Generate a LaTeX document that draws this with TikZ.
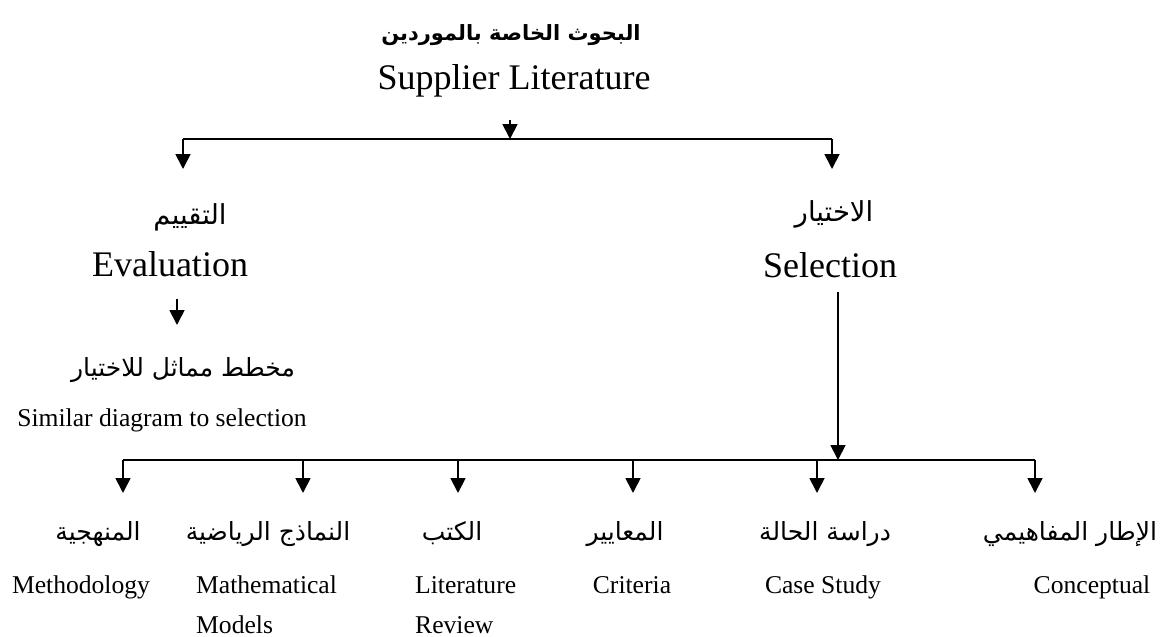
\documentclass[tikz,border=0pt]{standalone}
\usepackage{fontspec}
\setmainfont{Liberation Serif}
\newfontfamily\arabicfont[Script=Arabic]{DejaVu Sans}
\TeXXeTstate=1
\usetikzlibrary{arrows.meta}
\newcommand{\ar}[1]{{\arabicfont\beginR #1\endR}}
\begin{document}
\begin{tikzpicture}[x=1pt,y=-1pt,
  link/.style={line width=1.6pt},
  arr/.style={line width=1.8pt,-{Triangle[length=15pt,width=15pt]}},
  en/.style={anchor=base,inner sep=0pt,font=\fontsize{25.6}{28}\selectfont},
  enbig/.style={anchor=base,inner sep=0pt,font=\fontsize{36}{40}\selectfont},
  arlab/.style={anchor=base,inner sep=0pt,font=\fontsize{25}{28}\selectfont},
  arhead/.style={anchor=base,inner sep=0pt,font=\fontsize{27.5}{30}\selectfont}]
\useasboundingbox (0,0) rectangle (1162,637);

% root
\node[anchor=base,inner sep=0pt,font=\fontsize{21}{24}\selectfont\bfseries] (rootAr) at (511,40) {\ar{البحوث الخاصة بالموردين}};
\node[enbig] (rootEn) at (514,89) {Supplier Literature};

% first split
\coordinate (r0) at (510,120);
\coordinate (r1) at (510,139);
\coordinate (sL) at (183,139);
\coordinate (sR) at (832,139);
\coordinate (eTip) at (183,169);
\coordinate (sTip) at (832,169);
\draw[arr] (r0) -- (r1);
\draw[link] (sL) -- (sR);
\draw[arr] (sL) -- (eTip);
\draw[arr] (sR) -- (sTip);

% evaluation branch
\node[arhead] (evalAr) at (190,224) {\ar{التقييم}};
\node[enbig] (evalEn) at (170,276) {Evaluation};
\coordinate (v0) at (177,299);
\coordinate (v1) at (177,325);
\draw[arr] (v0) -- (v1);
\node[arlab] (simAr) at (183,376) {\ar{مخطط مماثل للاختيار}};
\node[en] (simEn) at (162,426) {Similar diagram to selection};

% selection branch
\node[arhead] (selAr) at (834,221) {\ar{الاختيار}};
\node[enbig] (selEn) at (830,277) {Selection};
\coordinate (q0) at (838,292);
\coordinate (q1) at (838,460);
\draw[arr] (q0) -- (q1);

% second split
\coordinate (bL) at (123,460);
\coordinate (bR) at (1035,460);
\draw[link] (bL) -- (bR);
\foreach \x/\n in {123/a,303/b,458/c,633/d,817/e,1035/f}{
  \coordinate (t\n) at (\x,460);
  \coordinate (h\n) at (\x,493);
  \draw[arr] (t\n) -- (h\n);
}

% leaves
\node[arlab] (mAr) at (98,540) {\ar{المنهجية}};
\node[en] (mEn) at (81,593) {Methodology};

\node[arlab] (mmAr) at (268,540) {\ar{النماذج الرياضية}};
\node[en,anchor=base west] (mmEn1) at (196,593) {Mathematical};
\node[en,anchor=base west] (mmEn2) at (196,633) {Models};

\node[arlab] (lrAr) at (452,540) {\ar{الكتب}};
\node[en,anchor=base west] (lrEn1) at (415,593) {Literature};
\node[en,anchor=base west] (lrEn2) at (415,633) {Review};

\node[arlab] (crAr) at (625,540) {\ar{المعايير}};
\node[en] (crEn) at (632,593) {Criteria};

\node[arlab] (csAr) at (825,540) {\ar{دراسة الحالة}};
\node[en] (csEn) at (823,593) {Case Study};

\node[arlab] (cpAr) at (1070,540) {\ar{الإطار المفاهيمي}};
\node[en] (cpEn) at (1092,593) {Conceptual};
\end{tikzpicture}
\end{document}
